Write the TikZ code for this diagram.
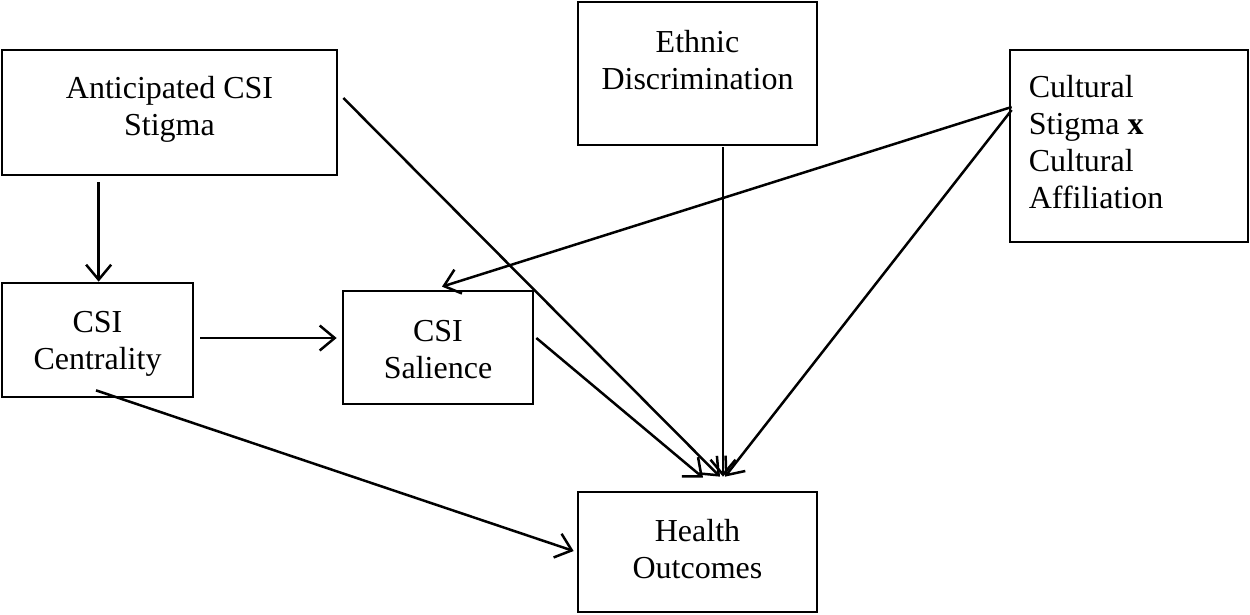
\documentclass[tikz,border=0pt]{standalone}
\usepackage{fontspec}
\setmainfont{Liberation Serif}
\usetikzlibrary{arrows.meta,calc}
\begin{document}
\begin{tikzpicture}[x=1pt,y=-1pt,
  boxnode/.style={draw, line width=2.7pt, inner sep=0pt, rectangle},
  txt/.style={font=\fontsize{32}{37}\selectfont, inner sep=0pt, align=center, anchor=north},
  conn/.style={line width=2.5pt, -{Straight Barb[length=15pt, width=25pt]}}]
\useasboundingbox (0,0) rectangle (1250,614);
% boxes
\node[boxnode, minimum width=335pt, minimum height=125pt] (ant) at (169.5,112.5) {};
\node[boxnode, minimum width=239pt, minimum height=143pt] (eth) at (697.5,73.5) {};
\node[boxnode, minimum width=238pt, minimum height=192pt] (cul) at (1129,146) {};
\node[boxnode, minimum width=191pt, minimum height=114pt] (cen) at (97.5,340) {};
\node[boxnode, minimum width=190pt, minimum height=113pt] (sal) at (438,347.5) {};
\node[boxnode, minimum width=239pt, minimum height=120pt] (hea) at (697.5,552) {};
% texts
\node[txt] (antt) at ($(ant.north)+(0,27)$) {Anticipated CSI\\Stigma};
\node[txt] (etht) at ($(eth.north)+(0,29)$) {Ethnic\\Discrimination};
\node[txt, align=left, anchor=north west] (cult) at ($(cul.north west)+(20,26)$) {Cultural\\Stigma \textbf{x}\\Cultural\\Affiliation};
\node[txt] (cent) at ($(cen.north)+(0,29)$) {CSI\\Centrality};
\node[txt] (salt) at ($(sal.north)+(0,30)$) {CSI\\Salience};
\node[txt] (heat) at ($(hea.north)+(0,28)$) {Health\\Outcomes};
% connectors
\draw[conn] ($(ant.south west)+(98,6)$) -- ($(cen.north west)+(98,0)$);
\draw[conn] ($(cen.east)+(6,-2)$) -- ($(sal.west)+(-5,-9.5)$);
\draw[conn] ($(ant.east)+(5,-14.5)$) -- ($(hea.north)+(22.5,-14)$);
\draw[conn] ($(eth.south)+(25.5,1)$) -- ($(hea.north)+(25.5,-14)$);
\draw[conn] ($(cul.west)+(3,-39)$) -- ($(sal.north)+(4,-3)$);
\draw[conn] ($(cul.west)+(3,-36)$) -- ($(hea.north)+(27.5,-14)$);
\draw[conn] ($(sal.east)+(2,-9.5)$) -- ($(hea.north)+(5.5,-13)$);
\draw[conn] ($(cen.south)+(-1.5,-8)$) -- ($(hea.west)+(-3,-1)$);
\end{tikzpicture}
\end{document}
